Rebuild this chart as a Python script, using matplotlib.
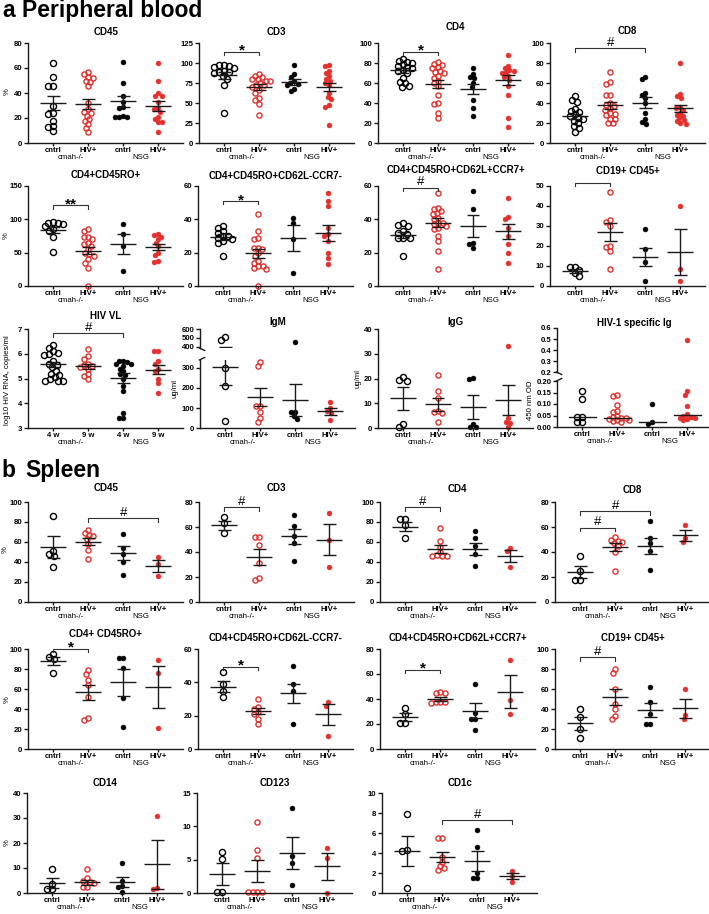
import numpy as np
import matplotlib
matplotlib.use("Agg")
import matplotlib.pyplot as plt

plt.rcParams['font.family'] = ['Liberation Sans', 'DejaVu Sans']

W, H = 709, 914
RED = '#e3302d'
INK = '#1a1a1a'

cats = ['cntrl', 'HIV+', 'cntrl', 'HIV+']
cats_vl = ['4 w', '9 w', '4 w', '9 w']
strains = ['cmah-/-', 'NSG']

# ---------------- Peripheral blood ----------------
pb_cd45 = [[64, 53, 46, 46, 30, 24, 23, 18, 14, 13, 10],
           [57, 55, 53, 52, 50, 49, 46, 32, 27, 25, 24, 22, 19, 18, 15, 12, 9],
           [65, 48, 38, 33, 29, 28, 22, 21, 21, 21],
           [64, 50, 40, 38, 38, 33, 28, 27, 25, 21, 19, 17, 17, 9]]
pb_cd45_mean = [32, 31, 33.5, 30]
pb_cd45_sem = [5.5, 4, 4.5, 4]

pb_cd3 = [[97, 97, 96, 95, 94, 90, 89, 89, 88, 84, 80, 72, 37],
          [86, 84, 82, 80, 80, 78, 77, 75, 73, 72, 70, 66, 63, 56, 54, 49, 35],
          [97, 86, 83, 77, 75, 74, 72, 68, 65],
          [97, 96, 90, 87, 84, 80, 78, 75, 72, 63, 58, 55, 47, 45, 23]]
pb_cd3_mean = [84.5, 70, 76.5, 70]
pb_cd3_sem = [4.5, 4, 3.5, 5.5]

pb_cd4 = [[84, 82, 81, 80, 79, 77, 76, 75, 73, 72, 70, 65, 61, 60, 57, 56],
          [81, 79, 78, 76, 75, 72, 71, 70, 67, 65, 62, 60, 57, 48, 40, 39, 30, 25],
          [75, 69, 66, 65, 60, 56, 43, 35, 27],
          [88, 77, 75, 73, 72, 71, 70, 67, 66, 63, 57, 48, 25, 16]]
pb_cd4_mean = [73, 59.5, 54, 63]
pb_cd4_sem = [2.5, 4, 5, 5]

pb_cd8 = [[47, 43, 41, 34, 32, 31, 29, 27, 25, 24, 22, 20, 17, 15, 11],
          [71, 61, 59, 48, 48, 40, 38, 37, 35, 33, 30, 29, 28, 24, 24, 20, 20],
          [66, 64, 50, 48, 45, 40, 30, 24, 21, 19],
          [80, 49, 47, 45, 36, 35, 33, 30, 28, 27, 25, 23, 22, 20, 19]]
pb_cd8_mean = [26.7, 37.7, 40.5, 34.7]
pb_cd8_sem = [2.5, 3.7, 5.5, 3.5]

pb_ro = [[96, 95, 94, 93, 90, 85, 82, 73, 51],
         [86, 83, 74, 73, 70, 65, 63, 60, 55, 50, 48, 45, 40, 35, 27, 0],
         [93, 78, 60, 22],
         [78, 77, 74, 70, 65, 60, 50, 46, 37, 36]]
pb_ro_mean = [84, 53, 63, 58.5]
pb_ro_sem = [4.8, 5, 15.5, 4.8]

pb_em = [[36, 35, 33, 32, 30, 30, 29, 28, 27, 26, 18],
         [43, 33, 29, 28, 23, 23, 22, 20, 18, 15, 14, 12, 12, 11, 10, 0],
         [41, 38, 28, 8],
         [56, 51, 48, 35, 31, 30, 27, 20, 17, 13]]
pb_em_mean = [29.3, 19.5, 28.7, 31.8]
pb_em_sem = [1.7, 2.5, 7.7, 4.6]

pb_cm = [[37.5, 36.5, 36, 33, 32, 31, 29, 29, 28.5, 18],
         [56, 47, 46, 45, 44, 43, 41, 40, 38, 38, 37, 36, 35, 34, 30, 27, 21, 10],
         [57, 46, 26, 25, 23],
         [53, 41.5, 40, 35, 30, 25, 20, 14]]
pb_cm_mean = [30.7, 38, 36, 32.8]
pb_cm_sem = [1.9, 2.6, 6.6, 4.5]

pb_cd19 = [[9.7, 9.5, 8, 6.5, 5],
           [47, 33, 32, 30, 20, 19.5, 17.5, 8.5],
           [28.5, 18.5, 12, 2.5],
           [40, 8.5, 2.5]]
pb_cd19_mean = [7.5, 27, 14.5, 17]
pb_cd19_sem = [1, 4.7, 4.3, 11.5]

pb_vl = [[6.35, 6.25, 6.1, 6.05, 6.0, 5.95, 5.7, 5.6, 5.55, 5.45, 5.3, 5.2, 5.15, 5.05, 5.0, 4.9, 4.9, 4.9],
         [6.2, 5.9, 5.8, 5.6, 5.55, 5.5, 5.45, 5.4, 5.2, 5.1, 5.0],
         [5.72, 5.7, 5.65, 5.6, 5.6, 5.5, 5.4, 5.3, 5.2, 5.15, 5.0, 4.7, 4.5, 3.6, 3.42, 3.4],
         [6.1, 6.1, 5.7, 5.6, 5.4, 5.3, 5.0, 4.8, 4.4]]
pb_vl_mean = [5.57, 5.5, 5.02, 5.35]
pb_vl_sem = [0.1, 0.1, 0.2, 0.18]

pb_igm = [[510, 480, 300, 210, 35],
          [330, 310, 110, 110, 80, 50, 30],
          [450, 80, 78, 60, 45],
          [130, 100, 85, 75, 40]]
pb_igm_mean = [305, 155, 142, 83]
pb_igm_sem = [90, 45, 80, 16]

pb_igg = [[20.5, 19.5, 19, 1.5, 0.5],
          [21.3, 15, 12, 7, 6.5, 6, 2.5],
          [20.3, 19.7, 1.7, 0.5, 0.5],
          [33, 4, 2.5, 2.2, 0.3]]
pb_igg_mean = [12, 9.5, 8.5, 11.3]
pb_igg_sem = [4.6, 2.6, 4.7, 6.1]

pb_hivig = [[0.155, 0.12, 0.045, 0.045, 0.02, 0.02],
            [0.14, 0.135, 0.095, 0.07, 0.065, 0.05, 0.045, 0.04, 0.04, 0.035, 0.03, 0.03, 0.025, 0.02],
            [0.10, 0.02, 0.015],
            [0.49, 0.155, 0.14, 0.09, 0.055, 0.05, 0.045, 0.04, 0.04, 0.035, 0.03]]
pb_hivig_median = [0.045, 0.04, 0.02, 0.053]

# ---------------- Spleen ----------------
sp_cd45 = [[86, 51, 48, 46, 35],
           [72, 69, 67, 66, 63, 58, 52, 43],
           [68, 54, 48, 40, 27],
           [45, 38, 26]]
sp_cd45_mean = [55, 60.5, 49, 36]
sp_cd45_sem = [11, 3.5, 7, 6]

sp_cd3 = [[68, 63, 55],
          [52, 52, 46, 31, 19, 18],
          [70, 61, 53, 47, 33],
          [71, 50, 28]]
sp_cd3_mean = [61.5, 36, 52.5, 50]
sp_cd3_sem = [3.5, 6.5, 6.3, 12.5]

sp_cd4 = [[83, 83, 77, 64],
          [74, 61, 55, 50, 47, 46, 46, 46],
          [71, 64, 56, 48, 36],
          [54, 51, 35]]
sp_cd4_mean = [75.5, 53.5, 53, 46]
sp_cd4_sem = [4.5, 4, 6, 6]

sp_cd8 = [[37, 25, 18, 18],
          [52, 50, 49, 48, 47, 45, 40, 25],
          [65, 51, 47, 41, 26],
          [62, 51, 48]]
sp_cd8_mean = [24, 44, 45, 53.5]
sp_cd8_sem = [4.8, 3.5, 6.5, 4.5]

sp_ro = [[95, 92, 90, 76],
         [79, 75, 69, 64, 52, 31, 29],
         [91, 91, 81, 51, 22],
         [89, 76, 21]]
sp_ro_mean = [88, 57, 67, 62.5]
sp_ro_sem = [4, 7.5, 13.5, 21]

sp_em = [[46, 39, 35, 31],
         [30, 25, 24, 22, 21, 18, 15],
         [50, 39, 35, 15],
         [28, 26, 8]]
sp_em_mean = [37.5, 23, 33.5, 21]
sp_em_sem = [3.3, 1.9, 5.8, 6.3]

sp_cm = [[32.5, 28, 21, 21],
         [46, 45, 45, 38, 38, 37.5, 37],
         [52, 29, 24, 24, 15],
         [71, 39, 28]]
sp_cm_mean = [25.5, 40, 30.5, 46]
sp_cm_sem = [3, 1.8, 6, 13]

sp_cd19 = [[40, 32, 20, 11],
           [80, 76, 60, 45, 40, 33, 30],
           [62, 47, 35, 25, 25],
           [60, 34, 30]]
sp_cd19_mean = [26, 52, 39, 41]
sp_cd19_sem = [6.5, 8, 7, 9.5]

sp_cd14 = [[9.5, 3.5, 1.5, 1.5],
           [9.7, 6, 5, 4.5, 4, 2.5, 2.3],
           [12, 5, 3, 2.5, 0.5],
           [31, 2, 1.7]]
sp_cd14_mean = [4, 4.4, 4.3, 11.5]
sp_cd14_sem = [2, 1, 2, 9.7]

sp_cd123 = [[6.1, 5.1, 0.1, 0.1],
            [10.7, 6.5, 5.3, 0.2, 0.1, 0.1, 0.2],
            [12.7, 5.6, 4.5, 1.2],
            [6.7, 5.2, 0]]
sp_cd123_mean = [2.85, 3.3, 6, 4]
sp_cd123_sem = [1.65, 1.6, 2.4, 2]

sp_cd1c = [[7.9, 4.3, 4.2, 0.5],
           [5.5, 5.5, 3.6, 3.1, 2.7, 2.5, 2.3],
           [6.3, 4.6, 2.0, 1.5, 1.5],
           [2.2, 1.7, 1.1]]
sp_cd1c_mean = [4.25, 3.6, 3.2, 1.7]
sp_cd1c_sem = [1.5, 0.5, 1, 0.3]

# ---------------- drawing helpers ----------------
PXU = 35.0
XL, XR = -0.72, 3.7
AXW = (XR - XL) * PXU
STY = [dict(marker='o', mfc='none', mec='black', ms=4.4, mew=1.0),
       dict(marker='o', mfc='none', mec=RED, ms=3.7, mew=1.0),
       dict(marker='o', mfc='black', mec='black', ms=3.5, mew=0.4),
       dict(marker='o', mfc=RED, mec=RED, ms=3.5, mew=0.4)]
DPX = [5.0, 4.5, 4.2, 4.2]
TFS = 5.6

fig = plt.figure(figsize=(W / 100, H / 100), dpi=100)


def px_axes(left, top, bottom):
    return fig.add_axes([left / W, 1 - bottom / H, AXW / W, (bottom - top) / H])


def swarm(vals, ypix, d):
    placed = []
    offs = np.zeros(len(vals))
    for i, v in enumerate(vals):
        y = ypix(v)
        cands = [0.0]
        for xj, yj in placed:
            dy = y - yj
            if abs(dy) < d:
                dx = np.sqrt(d * d - dy * dy)
                cands += [xj + dx, xj - dx]
        cands = sorted(cands, key=lambda c: (abs(c), c))
        for c in cands:
            if all((c - xj) ** 2 + (y - yj) ** 2 >= d * d - 1e-6 for xj, yj in placed):
                offs[i] = c
                placed.append((c, y))
                break
    return offs / PXU


def style(ax, ylim, yticks, ylabs, xaxis=True, xcats=cats):
    ax.set_xlim(XL, XR)
    ax.set_ylim(*ylim)
    ax.patch.set_visible(False)
    for s in ['top', 'right']:
        ax.spines[s].set_visible(False)
    ax.spines['left'].set_bounds(ylim[0], ylim[1])
    for s in ['left', 'bottom']:
        ax.spines[s].set_linewidth(1.0)
        ax.spines[s].set_color(INK)
    ax.set_yticks(yticks)
    ax.set_yticklabels(ylabs, fontsize=TFS, fontweight='bold')
    ax.tick_params(axis='y', length=3, width=1.0, pad=1, color=INK)
    if xaxis:
        ax.set_xticks(range(4))
        ax.set_xticklabels(xcats, fontsize=TFS, fontweight='bold')
        ax.tick_params(axis='x', length=2, width=1.0, pad=1.2, color=INK)
        for k, s in enumerate(strains):
            ax.annotate(s, xy=(0.5 + 2 * k, 0), xycoords=('data', 'axes fraction'),
                        xytext=(0, -10.6), textcoords='offset points',
                        ha='center', va='center', fontsize=TFS)
    else:
        ax.spines['bottom'].set_visible(False)
        ax.set_xticks([])


def mean_sem(ax, g, m, s, clip=False):
    kw = dict(color=INK, lw=1.0, zorder=3, clip_on=clip, solid_capstyle='butt')
    ax.plot([g - 0.37, g + 0.37], [m, m], **kw)
    ax.plot([g, g], [m - s, m + s], **kw)
    ax.plot([g - 0.18, g + 0.18], [m + s, m + s], **kw)
    ax.plot([g - 0.18, g + 0.18], [m - s, m - s], **kw)


def bracket(ax, i, j, y, sym, dy):
    ax.plot([i, i, j, j], [y - dy, y, y, y - dy], color='#333333', lw=0.8, clip_on=False)
    if sym == '#':
        ax.annotate(sym, xy=((i + j) / 2, y), xytext=(0, 1.6), textcoords='offset points',
                    ha='center', va='baseline', fontsize=9.5)
    else:
        ax.annotate(sym, xy=((i + j) / 2, y), xytext=(0, -2.2), textcoords='offset points',
                    ha='center', va='baseline', fontsize=11, fontweight='bold')


def title(left, ty, txt):
    fig.text((left + (1.5 - XL) * PXU) / W, 1 - ty / H, txt, ha='center', va='center',
             fontsize=7, fontweight='bold')


def fmt(ticks, f='{:g}'):
    return [f.format(t) for t in ticks]


def panel(left, top, bottom, vals, means, sems, ylim, yticks, ttl, ty,
          brackets=(), xcats=cats, ylabs=None):
    ax = px_axes(left, top, bottom)
    style(ax, ylim, yticks, ylabs if ylabs else fmt(yticks), xcats=xcats)
    sc = (bottom - top) / (ylim[1] - ylim[0])
    for g in range(4):
        off = swarm(vals[g], lambda v: (v - ylim[0]) * sc, DPX[g])
        ax.plot(g + off, vals[g], ls='none', zorder=2, clip_on=False, **STY[g])
        mean_sem(ax, g, means[g], sems[g])
    dy = 3.5 / sc
    for (i, j, y, sym) in brackets:
        bracket(ax, i, j, y, sym, dy)
    title(left, ty, ttl)
    return ax


def broken_panel(left, tu, bu, tl, bl, vals, ylim_u, ylim_l, yt_u, yt_l, lab_u, lab_l,
                 ttl, ty, means=None, sems=None, medians=None):
    ax_u = px_axes(left, tu, bu)
    ax_l = px_axes(left, tl, bl)
    style(ax_u, ylim_u, yt_u, lab_u, xaxis=False)
    style(ax_l, ylim_l, yt_l, lab_l)
    sc_u = (bu - tu) / (ylim_u[1] - ylim_u[0])
    sc_l = (bl - tl) / (ylim_l[1] - ylim_l[0])

    def ypix(v):
        if v >= ylim_u[0]:
            return (bl - bu) + (v - ylim_u[0]) * sc_u
        return (v - ylim_l[0]) * sc_l

    for g in range(4):
        off = swarm(vals[g], ypix, DPX[g])
        v = np.array(vals[g])
        up = v >= ylim_u[0]
        ax_u.plot(g + off[up], v[up], ls='none', zorder=2, clip_on=False, **STY[g])
        ax_l.plot(g + off[~up], v[~up], ls='none', zorder=2, clip_on=False, **STY[g])
        for ax in (ax_u, ax_l):
            if medians is not None:
                ax.plot([g - 0.38, g + 0.38], [medians[g]] * 2, color=INK, lw=1.0, zorder=3)
            else:
                mean_sem(ax, g, means[g], sems[g], clip=True)
    ax_u.plot([-0.004, 0.03], [0.0, -2.5 / (bu - tu)], color=INK, lw=1.0, clip_on=False,
              transform=ax_u.transAxes)
    ax_l.plot([-0.004, 0.03], [1.0, 1.0 + 2.5 / (bl - tl)], color=INK, lw=1.0,
              clip_on=False, transform=ax_l.transAxes)
    title(left, ty, ttl)
    return ax_u, ax_l


def ylab(x, y, txt):
    fig.text(x / W, 1 - y / H, txt, rotation=90, ha='center', va='center', fontsize=TFS)


# ---------------- headers ----------------
fig.text(2 / W, 1 - 17 / H, 'a', fontsize=16.5, fontweight='bold', ha='left', va='baseline')
fig.text(22 / W, 1 - 17 / H, 'Peripheral blood', fontsize=16.5, fontweight='bold',
         ha='left', va='baseline')
fig.text(1 / W, 1 - 477 / H, 'b', fontsize=16.5, fontweight='bold', ha='left', va='baseline')
fig.text(25 / W, 1 - 477 / H, 'Spleen', fontsize=16.5, fontweight='bold', ha='left',
         va='baseline')

# ---------------- PB row 1 ----------------
panel(28, 43, 143, pb_cd45, pb_cd45_mean, pb_cd45_sem, (0, 80), [0, 20, 40, 60, 80], 'CD45', 32)
panel(199, 43, 143, pb_cd3, pb_cd3_mean, pb_cd3_sem, (0, 125), [0, 25, 50, 75, 100, 125], 'CD3', 32,
      brackets=[(0, 1, 114, '*')])
panel(378, 43, 143, pb_cd4, pb_cd4_mean, pb_cd4_sem, (0, 100), [0, 20, 40, 60, 80, 100], 'CD4', 27,
      brackets=[(0, 1, 91.5, '*')])
panel(550, 43, 143, pb_cd8, pb_cd8_mean, pb_cd8_sem, (0, 100), [0, 20, 40, 60, 80, 100], 'CD8', 31,
      brackets=[(0, 2, 95, '#')])
ylab(7, 92, '%')

# ---------------- PB row 2 ----------------
panel(28, 186, 286, pb_ro, pb_ro_mean, pb_ro_sem, (0, 150), [0, 50, 100, 150], 'CD4+CD45RO+', 175,
      brackets=[(0, 1, 121, '**')])
panel(198, 186, 286, pb_em, pb_em_mean, pb_em_sem, (0, 60), [0, 20, 40, 60],
      'CD4+CD45RO+CD62L-CCR7-', 176, brackets=[(0, 1, 51, '*')])
panel(378, 186, 286, pb_cm, pb_cm_mean, pb_cm_sem, (0, 60), [0, 20, 40, 60],
      'CD4+CD45RO+CD62L+CCR7+', 170, brackets=[(0, 1, 59, '#')])
panel(550, 186, 286, pb_cd19, pb_cd19_mean, pb_cd19_sem, (0, 50), [0, 10, 20, 30, 40, 50],
      'CD19+ CD45+', 171, brackets=[(0, 1, 51.5, '*')])
ylab(6, 236, '%')

# ---------------- PB row 3 ----------------
panel(28, 329, 428, pb_vl, pb_vl_mean, pb_vl_sem, (3, 7), [3, 4, 5, 6, 7], 'HIV VL', 316,
      brackets=[(0, 2, 6.83, '#')], xcats=cats_vl)
ylab(8, 380, 'log10 HIV RNA, copies/ml')

broken_panel(200, 329, 348, 360, 428, pb_igm, (385, 600), (0, 340), [400, 500, 600],
             [0, 100, 200, 300], fmt([400, 500, 600]), fmt([0, 100, 200, 300]), 'IgM', 322,
             means=pb_igm_mean, sems=pb_igm_sem)
ylab(175, 388, 'ug/ml')

panel(378, 329, 428, pb_igg, pb_igg_mean, pb_igg_sem, (0, 40), [0, 10, 20, 30, 40], 'IgG', 322)
ylab(358, 378, 'ug/ml')

broken_panel(557, 328, 372, 381, 427, pb_hivig, (0.2, 0.6), (0, 0.2),
             [0.2, 0.3, 0.4, 0.5, 0.6], [0, 0.05, 0.10, 0.15, 0.20],
             fmt([0.2, 0.3, 0.4, 0.5, 0.6], '{:.1f}'), fmt([0, 0.05, 0.10, 0.15, 0.20], '{:.2f}'),
             'HIV-1 specific Ig', 323, medians=pb_hivig_median)
ylab(530, 400, '450 nm OD')

# ---------------- Spleen row 1 ----------------
panel(28, 502, 602, sp_cd45, sp_cd45_mean, sp_cd45_sem, (0, 100), [0, 20, 40, 60, 80, 100], 'CD45', 488,
      brackets=[(1, 3, 84, '#')])
panel(199, 502, 602, sp_cd3, sp_cd3_mean, sp_cd3_sem, (0, 80), [0, 20, 40, 60, 80], 'CD3', 488,
      brackets=[(0, 1, 76, '#')])
panel(380, 502, 602, sp_cd4, sp_cd4_mean, sp_cd4_sem, (0, 100), [0, 20, 40, 60, 80, 100], 'CD4', 489,
      brackets=[(0, 1, 95, '#')])
panel(555, 502, 602, sp_cd8, sp_cd8_mean, sp_cd8_sem, (0, 80), [0, 20, 40, 60, 80], 'CD8', 490,
      brackets=[(0, 1, 59.5, '#'), (0, 2, 72.5, '#')])
ylab(5, 550, '%')

# ---------------- Spleen row 2 ----------------
panel(28, 649, 749, sp_ro, sp_ro_mean, sp_ro_sem, (0, 100), [0, 20, 40, 60, 80, 100], 'CD4+ CD45RO+', 634,
      brackets=[(0, 1, 100.5, '*')])
panel(198, 649, 749, sp_em, sp_em_mean, sp_em_sem, (0, 60), [0, 20, 40, 60],
      'CD4+CD45RO+CD62L-CCR7-', 638, brackets=[(0, 1, 49.5, '*')])
panel(380, 649, 749, sp_cm, sp_cm_mean, sp_cm_sem, (0, 80), [0, 20, 40, 60, 80],
      'CD4+CD45RO+CD62L+CCR7+', 638, brackets=[(0, 1, 63.5, '*')])
panel(555, 649, 749, sp_cd19, sp_cd19_mean, sp_cd19_sem, (0, 100), [0, 20, 40, 60, 80, 100],
      'CD19+ CD45+', 638, brackets=[(0, 1, 92, '#')])
ylab(7, 700, '%')

# ---------------- Spleen row 3 ----------------
panel(27, 793, 893, sp_cd14, sp_cd14_mean, sp_cd14_sem, (0, 40), [0, 10, 20, 30, 40], 'CD14', 783)
panel(197, 793, 893, sp_cd123, sp_cd123_mean, sp_cd123_sem, (0, 15), [0, 5, 10, 15], 'CD123', 783)
panel(382, 793, 893, sp_cd1c, sp_cd1c_mean, sp_cd1c_sem, (0, 10), [0, 2, 4, 6, 8, 10], 'CD1c', 783,
      brackets=[(1, 3, 7.3, '#')])
ylab(7, 843, '%')

fig.savefig('out.png', dpi=100)
